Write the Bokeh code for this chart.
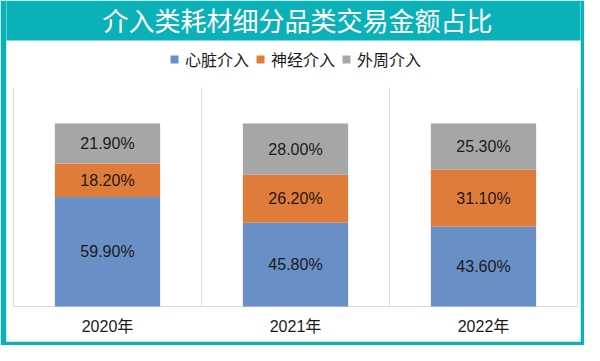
from bokeh.plotting import figure
from bokeh.models import (Range1d, ColumnDataSource, Legend, LegendItem,
                          Label, BoxAnnotation)
from bokeh.embed import file_html
from bokeh.resources import INLINE
from bokeh.core.properties import value

# ---- data ----
title_text = "介入类耗材细分品类交易金额占比"
years = ["2020年", "2021年", "2022年"]
series_names = ["心脏介入", "神经介入", "外周介入"]
cardiac = [59.9, 45.8, 43.6]
neuro = [18.2, 26.2, 31.1]
peripheral = [21.9, 28.0, 25.3]

colors = ["#6890C6", "#E07C3A", "#A6A6A6"]
TEAL = "#0BB1B8"
W, H = 584, 345

# geometry (pixels)
B_LEFT, B_RIGHT, B_BOTTOM = 6, 4, 4        # teal border widths
FRAME_H = H - B_BOTTOM
BASE_FROM_BOTTOM = 35                      # 0 % baseline above frame bottom
PX_PER_PCT = 1.83
CAT_PX = 188
PAD_L, PAD_R = 7, 3

x_pos = [i + 0.5 for i in range(len(years))]
y_lo = -BASE_FROM_BOTTOM / PX_PER_PCT
y_hi = (FRAME_H - BASE_FROM_BOTTOM) / PX_PER_PCT
sep_top = 219 / PX_PER_PCT

p = figure(x_range=Range1d(-PAD_L / CAT_PX, len(years) + PAD_R / CAT_PX),
           y_range=Range1d(y_lo, y_hi),
           width=W, height=H, output_backend="svg", toolbar_location=None,
           x_axis_location=None, y_axis_location=None,
           min_border_left=B_LEFT, min_border_right=B_RIGHT,
           min_border_top=0, min_border_bottom=B_BOTTOM,
           border_fill_color=TEAL, background_fill_color="white",
           outline_line_color=None)
p.xgrid.visible = False
p.ygrid.visible = False

# teal title bar
bar = BoxAnnotation(left=0, right=W, top=0, bottom=40,
                    left_units="canvas", right_units="canvas",
                    top_units="canvas", bottom_units="canvas",
                    fill_color=TEAL, fill_alpha=1.0, line_color=None, level="image")
p.add_layout(bar)

# category separators and baseline
bounds = list(range(len(years) + 1))
p.segment(x0=bounds, x1=bounds, y0=[0] * len(bounds), y1=[sep_top] * len(bounds),
          line_color="#DCDCDC", line_width=1)
p.segment(x0=[bounds[0]], x1=[bounds[-1]], y0=[0], y1=[0], line_color="#D9D9D9", line_width=1)

source = ColumnDataSource(dict(x=x_pos, year=years, **{series_names[0]: cardiac,
                                                       series_names[1]: neuro,
                                                       series_names[2]: peripheral}))
renderers = p.vbar_stack(series_names, x="x", width=0.56, source=source,
                         fill_color=colors, line_color=None)

# value labels centred in each segment
stack = [cardiac, neuro, peripheral]
lab_x, lab_y, lab_t = [], [], []
for i in range(len(years)):
    base = 0.0
    for s in stack:
        v = s[i]
        lab_x.append(x_pos[i])
        lab_y.append(base + v / 2)
        lab_t.append(f"{v:.2f}%")
        base += v
p.text(x=lab_x, y=lab_y, text=lab_t, text_align="center", text_baseline="middle",
       text_font=value("Liberation Sans"), text_font_size="16px", text_color="#1a1a1a")

# category labels under the baseline
p.text(x=x_pos, y=[-20 / PX_PER_PCT] * len(years), text=years,
       text_align="center", text_baseline="middle",
       text_font=value("Liberation Sans, Noto Sans CJK SC"), text_font_size="16px",
       text_color="#1a1a1a")

items = [LegendItem(label=n, renderers=[r]) for n, r in zip(series_names, renderers)]
legend = Legend(items=items, orientation="horizontal", location=(163, 270),
                glyph_width=10, glyph_height=10, label_standoff=6, spacing=6,
                padding=0, margin=0, border_line_color=None, background_fill_alpha=0,
                label_text_font="Noto Sans CJK SC", label_text_font_size="16px",
                label_text_color="#1a1a1a", label_height=16)
p.add_layout(legend)

title = Label(x=297, y=19, x_units="canvas", y_units="canvas", text=title_text,
              text_align="center", text_baseline="middle",
              text_font="Noto Sans CJK SC", text_font_size="26px", text_color="white")
p.add_layout(title)

open("out.html", "w").write(file_html(p, INLINE))
